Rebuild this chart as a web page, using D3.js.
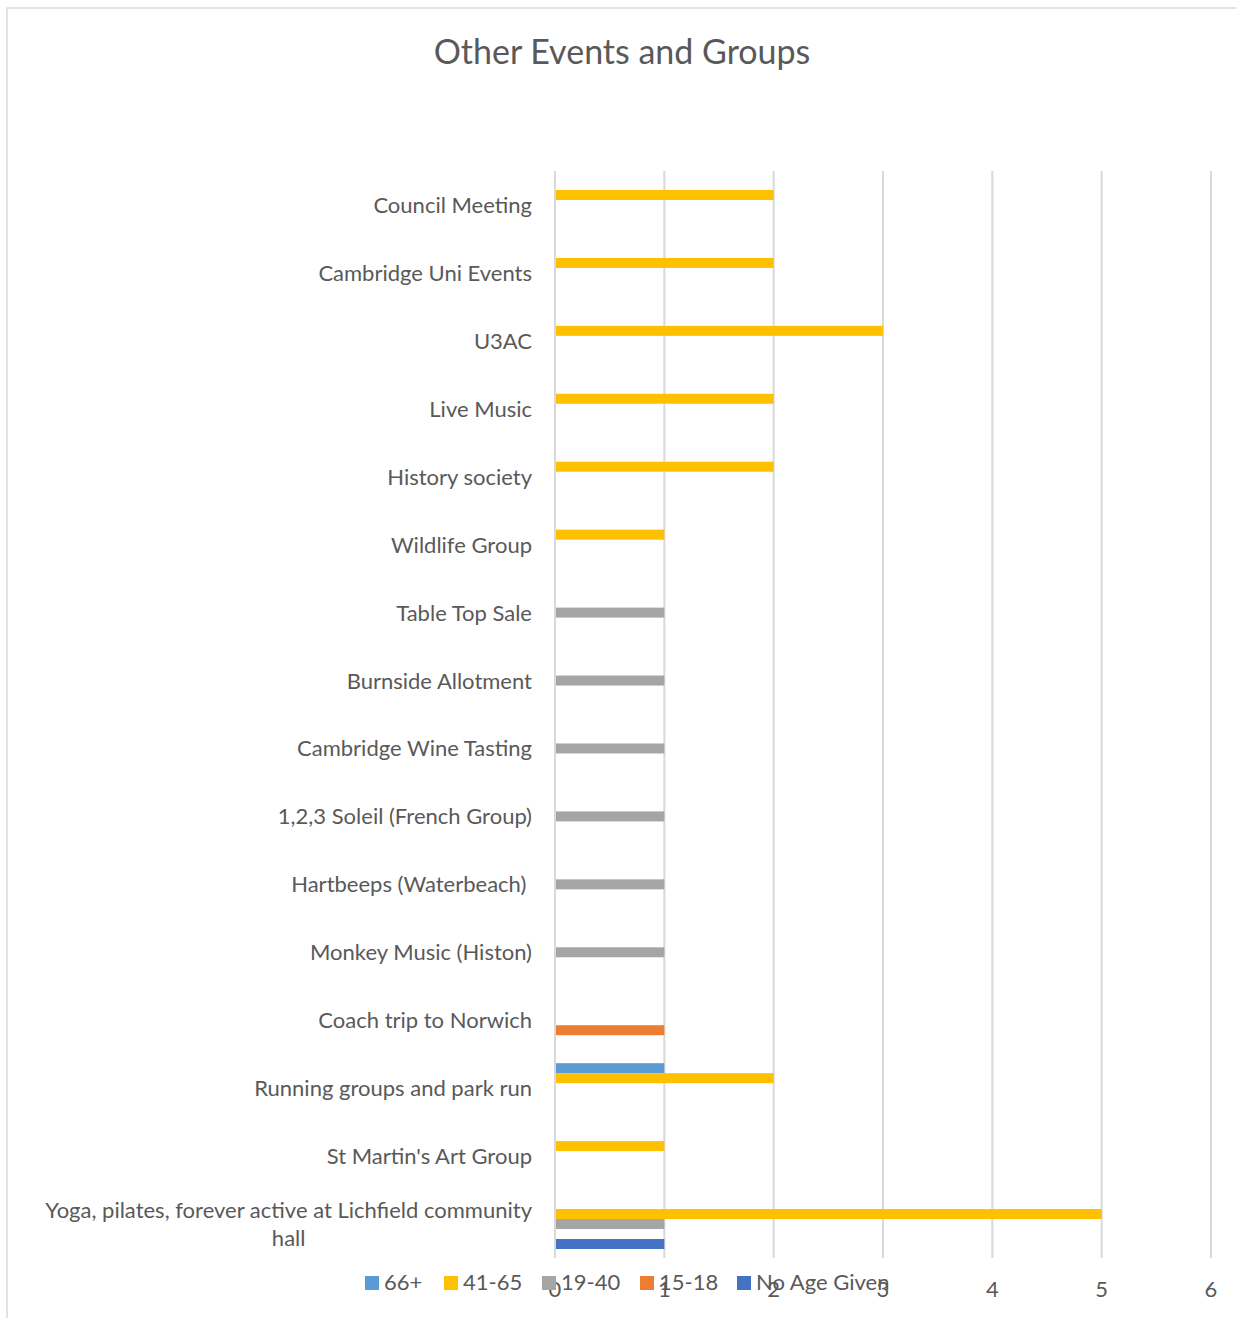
<!DOCTYPE html>
<html><head><meta charset="utf-8">
<script src="https://cdn.jsdelivr.net/npm/d3@7"></script>
<style>
html,body{margin:0;padding:0;background:#fff;}
text{font-family:Lato,"Open Sans",sans-serif;fill:#595959;}
</style></head>
<body>
<svg id="chart" width="1236" height="1318"></svg>
<script>
const categories = ["Council Meeting","Cambridge Uni Events","U3AC","Live Music","History society","Wildlife Group","Table Top Sale","Burnside Allotment","Cambridge Wine Tasting","1,2,3 Soleil (French Group)","Hartbeeps (Waterbeach) ","Monkey Music (Histon)","Coach trip to Norwich","Running groups and park run","St Martin's Art Group","Yoga, pilates, forever active at Lichfield community hall"];
const seriesNames = ["66+","41-65","19-40","15-18","No Age Given"];
const seriesColors = ["#5B9BD5","#FFC000","#A5A5A5","#ED7D31","#4472C4"];
const v66 =    [0,0,0,0,0,0,0,0,0,0,0,0,0,1,0,0];
const v41_65 = [2,2,3,2,2,1,0,0,0,0,0,0,0,2,1,5];
const v19_40 = [0,0,0,0,0,0,1,1,1,1,1,1,0,0,0,1];
const v15_18 = [0,0,0,0,0,0,0,0,0,0,0,0,1,0,0,0];
const vNoAge = [0,0,0,0,0,0,0,0,0,0,0,0,0,0,0,1];
const seriesValues = [v66, v41_65, v19_40, v15_18, vNoAge];
const xTicks = [0,1,2,3,4,5,6];
const titleText = "Other Events and Groups";

const svg = d3.select("#chart");
// frame
svg.append("rect").attr("x",7).attr("y",8).attr("width",1240).attr("height",1320)
  .attr("fill","#fff").attr("stroke","#D9D9D9").attr("stroke-width",1.5);

const x = d3.scaleLinear().domain([0,6]).range([555,1211]);
const y0 = d3.scaleBand().domain(categories).range([171,1258]).padding(0);
const y1 = d3.scaleBand().domain(seriesNames).range([0,y0.bandwidth()]).paddingInner(0).paddingOuter(0.9);

// title
svg.append("text").attr("x",622).attr("y",64).attr("text-anchor","middle")
  .style("font-size","34px").text(titleText);

// gridlines
svg.append("g").selectAll("line").data(xTicks).join("line")
  .attr("x1",d=>x(d)).attr("x2",d=>x(d)).attr("y1",171).attr("y2",1258)
  .attr("stroke","#D9D9D9").attr("stroke-width",2);

// bars
const data = [];
categories.forEach((c,i)=>seriesNames.forEach((s,j)=>{
  if (seriesValues[j][i] > 0) data.push({c, s, v: seriesValues[j][i], color: seriesColors[j]});
}));
svg.append("g").selectAll("rect").data(data).join("rect")
  .attr("x",x(0)+1).attr("y",d=>y0(d.c)+y1(d.s))
  .attr("width",d=>x(d.v)-x(0)-1).attr("height",y1.bandwidth())
  .attr("fill",d=>d.color);

// x tick labels
svg.append("g").selectAll("text").data(xTicks).join("text")
  .attr("x",d=>x(d)).attr("y",1297).attr("text-anchor","middle")
  .style("font-size","22px").text(d=>d);

// category labels
const labG = svg.append("g");
categories.forEach(c=>{
  const cy = y0(c) + y0.bandwidth()/2;
  if (c.startsWith("Yoga")) {
    const l1 = "Yoga, pilates, forever active at Lichfield community", l2 = "hall";
    const t = labG.append("text").style("font-size","22px").attr("text-anchor","middle");
    const tmp = labG.append("text").style("font-size","22px").text(l1);
    const w = tmp.node().getComputedTextLength(); tmp.remove();
    const cx = 532 - w/2;
    t.append("tspan").attr("x",cx).attr("y",cy-14+8).text(l1);
    t.append("tspan").attr("x",cx).attr("y",cy+14+8).text(l2);
  } else {
    labG.append("text").attr("x",532).attr("y",cy+8).attr("text-anchor","end")
      .attr("xml:space","preserve").style("white-space","pre")
      .style("font-size","22px").text(c);
  }
});

// legend
const leg = svg.append("g");
const legendX = [365, 444, 542, 640, 737];
seriesNames.forEach((s,j)=>{
  const lx = legendX[j];
  leg.append("rect").attr("x",lx).attr("y",1276).attr("width",14).attr("height",14).attr("fill",seriesColors[j]);
  leg.append("text").attr("x",lx+19).attr("y",1290).style("font-size","22px").text(s);
});
</script>
</body></html>
